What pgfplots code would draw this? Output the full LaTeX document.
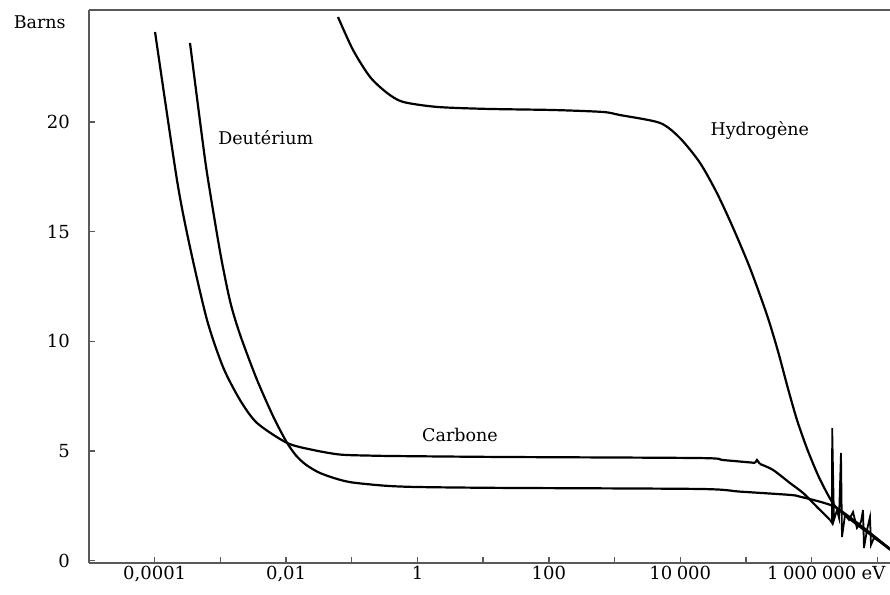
\documentclass[border=0pt]{standalone}
\usepackage{fontspec}
\setmainfont{DejaVu Serif}
\usepackage{pgfplots}
\pgfplotsset{compat=1.18}
\begin{document}
\begin{tikzpicture}[font=\fontsize{17.5}{20}\selectfont]
\begin{axis}[
  name=ax,
  at={(0,0)}, anchor=south west,
  scale only axis,
  width=801pt, height=553pt,
  xmin=-5, xmax=7.192,
  ymin=-0.105, ymax=25.11,
  separate axis lines,
  axis line style={line width=1.6pt, black!65},
  y axis line style={draw=none},
  xtick={-4,-3,...,7},
  xticklabels={{0,0001},,{0,01},,1,,100,,10\hspace{0.25em}000,,1\hspace{0.25em}000\hspace{0.25em}000\rlap{\hspace{0.3em}eV},},
  ytick={0,5,10,15,20},
  yticklabels={0,5,10,15,20},
  xtick pos=left, ytick pos=left,
  tick align=inside,
  major tick length=6pt,
  tick style={line width=1.4pt, black!65},
  every tick label/.append style={font=\fontsize{18}{20}\selectfont},
  every y tick label/.append style={anchor=east, inner xsep=0pt, xshift=-19pt},
  clip=false,
]
\draw[line width=1.6pt, black!65] (rel axis cs:0,0) -- (rel axis cs:0,1);
% Carbone
\addplot[black, line width=2.2pt, smooth, tension=0.45] coordinates {
(-3.995,24.11) (-3.661,17.36) (-3.463,14.30) (-3.204,10.98) (-2.960,8.83)
(-2.702,7.33) (-2.443,6.28) (-1.986,5.37) (-1.591,5.05) (-1.180,4.84)
(-0.700,4.79) (-0.266,4.77) (1.256,4.73) (4.300,4.68) (4.650,4.59) (5.137,4.46)
};
\addplot[black, line width=2.2pt] coordinates {
(5.137,4.46) (5.167,4.59) (5.213,4.41)
};
\addplot[black, line width=2.2pt, smooth, tension=0.45] coordinates {
(5.213,4.41) (5.411,4.14) (5.670,3.54) (5.868,3.09) (6.081,2.45) (6.279,1.86)
};
\addplot[black, line width=1.8pt] coordinates {
(6.279,1.86) (6.309,1.72) (6.312,6.05) (6.339,1.86) (6.385,2.31) (6.416,1.95)
(6.446,4.91) (6.461,1.08) (6.507,2.08) (6.568,1.86) (6.629,2.22) (6.689,1.49)
(6.750,1.77) (6.781,2.31) (6.796,0.58) (6.842,1.40) (6.887,1.99) (6.903,0.72)
(6.948,1.04) (7.040,0.85) (7.192,0.49)
};
% Deutérium
\addplot[black, line width=2.2pt, smooth, tension=0.45] coordinates {
(-3.463,23.61) (-3.300,19.80) (-3.200,17.60) (-3.000,14.00) (-2.850,11.80)
(-2.700,10.30) (-2.450,8.30) (-2.200,6.60) (-2.000,5.45) (-1.850,4.80)
(-1.700,4.38) (-1.500,4.02) (-1.250,3.75) (-1.000,3.57) (-0.500,3.42)
(0.000,3.36) (1.256,3.32) (4.300,3.27) (4.909,3.15) (5.670,3.00)
(5.822,2.92) (6.172,2.65) (6.385,2.40) (6.735,1.63) (7.192,0.54)
};
% Hydrogène
\addplot[black, line width=2.2pt, smooth, tension=0.45] coordinates {
(-1.210,24.79) (-0.982,23.29) (-0.723,22.06) (-0.464,21.33) (-0.221,20.92)
(0.297,20.69) (1.058,20.60) (2.062,20.55) (2.823,20.46) (3.082,20.32)
(3.691,19.96) (3.995,19.27) (4.300,18.14) (4.560,16.75) (4.800,15.20)
(5.060,13.35) (5.320,11.20) (5.487,9.55) (5.639,7.85) (5.776,6.42)
(5.928,5.12) (6.096,3.90) (6.248,3.00) (6.355,2.49)
(6.507,2.08) (6.735,1.54) (7.192,0.54)
};
\node at (axis cs:-2.31,19.27) {Deutérium};
\node at (axis cs:5.21,19.64) {Hydrogène};
\node at (axis cs:0.647,5.73) {Carbone};
\node at (axis cs:-5.75,24.56) {Barns};
\end{axis}
\pgfresetboundingbox
\path ([xshift=-89pt,yshift=-31pt]ax.south west) rectangle ([yshift=10pt]ax.north east);
\end{tikzpicture}
\end{document}
